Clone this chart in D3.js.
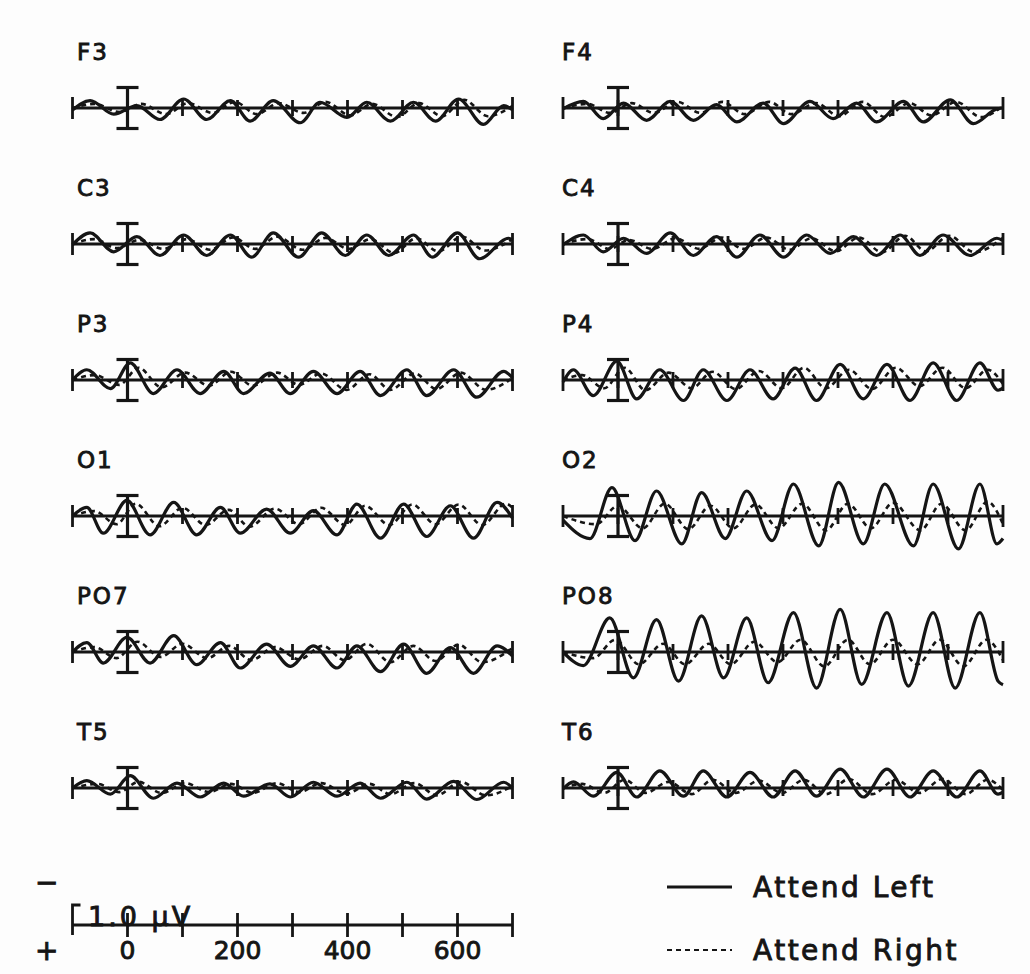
<!DOCTYPE html>
<html>
<head>
<meta charset="utf-8">
<script src="https://cdn.jsdelivr.net/npm/d3@7"></script>
<style>
  html, body { margin: 0; padding: 0; background: #fdfdfd; }
  text { font-family: "DejaVu Sans", sans-serif; fill: #151515; stroke: #151515; stroke-width: 0.9px; }
</style>
</head>
<body>
<div id="chart"></div>
<script>
// channel layout: left column / right column, row by row
const channels = ["F3", "F4", "C3", "C4", "P3", "P4", "O1", "O2", "PO7", "PO8", "T5", "T6"];

// [time ms, amplitude uV] (negative up) at their extrema
const F3_left = [[-100,0.05],[-68,-0.18],[-25,0.15],[17,-0.06],[59,0.28],[102,-0.22],[144,0.28],[187,-0.18],[223,0.32],[265,-0.18],[314,0.36],[350,-0.14],[399,0.23],[435,-0.14],[478,0.32],[520,-0.14],[560,0.32],[602,-0.22],[647,0.4],[684,-0.06],[700,0.05]];
const F3_right = [[-100,0],[-60,-0.1],[-15,0.1],[25,-0.1],[70,0.15],[110,-0.12],[155,0.12],[195,-0.15],[235,0.15],[275,-0.12],[320,0.12],[360,-0.15],[405,0.18],[445,-0.1],[490,0.22],[530,-0.12],[572,0.2],[612,-0.2],[655,0.2],[700,-0.05]];
const F4_left = [[-100,0.02],[-63,-0.16],[-27,0.26],[10,-0.12],[52,0.3],[95,-0.16],[137,0.3],[179,-0.08],[216,0.34],[264,-0.12],[301,0.38],[349,-0.16],[391,0.26],[434,-0.12],[470,0.34],[519,-0.16],[555,0.34],[604,-0.2],[646,0.38],[689,0.02],[700,0]];
const F4_right = [[-100,0],[-55,-0.1],[-15,0.12],[25,-0.12],[65,0.12],[108,-0.15],[150,0.12],[190,-0.15],[230,0.15],[275,-0.15],[315,0.15],[360,-0.12],[402,0.2],[445,-0.15],[485,0.22],[530,-0.12],[570,0.18],[615,-0.15],[660,0.22],[700,-0.05]];
const C3_left = [[-100,0.02],[-68,-0.27],[-25,0.19],[17,-0.18],[59,0.28],[102,-0.22],[144,0.28],[187,-0.22],[226,0.32],[265,-0.27],[311,0.32],[353,-0.27],[396,0.28],[435,-0.22],[475,0.28],[520,-0.22],[554,0.32],[600,-0.27],[640,0.36],[693,-0.14],[700,-0.1]];
const C3_right = [[-100,0],[-60,-0.12],[-20,0.1],[22,-0.1],[65,0.12],[108,-0.12],[150,0.14],[192,-0.16],[232,0.12],[272,-0.18],[318,0.14],[360,-0.15],[402,0.12],[442,-0.12],[485,0.22],[525,-0.14],[565,0.18],[608,-0.18],[650,0.16],[700,-0.12]];
const C4_left = [[-100,0.02],[-63,-0.22],[-27,0.19],[10,-0.14],[52,0.23],[95,-0.27],[137,0.28],[179,-0.18],[216,0.32],[258,-0.22],[301,0.32],[343,-0.22],[386,0.23],[428,-0.18],[470,0.28],[513,-0.22],[549,0.28],[591,-0.22],[640,0.28],[689,-0.14],[700,-0.08]];
const C4_right = [[-100,0],[-55,-0.12],[-15,0.12],[20,-0.1],[62,0.12],[105,-0.14],[148,0.12],[188,-0.16],[228,0.12],[270,-0.16],[312,0.14],[352,-0.14],[396,0.18],[438,-0.16],[480,0.2],[522,-0.2],[560,0.18],[602,-0.2],[648,0.2],[700,-0.15]];
const P3_left = [[-100,0],[-74,-0.25],[-31,0.21],[5,-0.42],[47,0.33],[90,-0.25],[132,0.33],[175,-0.21],[211,0.33],[259,-0.17],[296,0.33],[338,-0.21],[381,0.33],[423,-0.21],[460,0.38],[508,-0.25],[544,0.38],[593,-0.25],[635,0.42],[684,-0.21],[700,-0.05]];
const P3_right = [[-100,0],[-60,-0.12],[-15,0.12],[20,-0.3],[62,0.18],[105,-0.18],[148,0.14],[188,-0.2],[228,0.14],[272,-0.18],[312,0.12],[352,-0.16],[398,0.24],[440,-0.14],[478,0.24],[522,-0.16],[562,0.22],[606,-0.18],[652,0.24],[700,-0.05]];
const P4_left = [[-100,0.05],[-81,-0.25],[-45,0.38],[-2,-0.46],[34,0.46],[76,-0.25],[119,0.5],[155,-0.25],[198,0.5],[240,-0.25],[282,0.46],[322,-0.29],[361,0.5],[404,-0.38],[446,0.46],[489,-0.38],[531,0.5],[573,-0.42],[616,0.5],[658,-0.42],[691,0.25],[700,0.2]];
const P4_right = [[-100,0],[-65,-0.12],[-25,0.2],[12,-0.3],[50,0.25],[92,-0.18],[134,0.2],[172,-0.2],[214,0.22],[256,-0.22],[298,0.2],[338,-0.3],[378,0.2],[420,-0.25],[462,0.22],[505,-0.3],[548,0.15],[590,-0.3],[632,0.2],[672,-0.25],[700,0.1]];
const O1_left = [[-100,0],[-74,-0.21],[-44,0.42],[-1,-0.38],[41,0.46],[84,-0.33],[126,0.46],[169,-0.21],[205,0.42],[253,-0.17],[296,0.42],[338,-0.13],[381,0.46],[417,-0.29],[460,0.54],[502,-0.29],[544,0.5],[587,-0.25],[629,0.54],[672,-0.33],[700,0.05]];
const O1_right = [[-100,0],[-60,-0.12],[-20,0.2],[15,-0.3],[58,0.25],[100,-0.2],[142,0.22],[184,-0.15],[222,0.26],[268,-0.18],[312,0.2],[352,-0.2],[396,0.22],[432,-0.25],[476,0.22],[518,-0.28],[560,0.2],[602,-0.28],[645,0.22],[688,-0.3],[700,-0.2]];
const O2_left = [[-100,0.1],[-51,0.55],[-11,-0.69],[31,0.6],[70,-0.61],[116,0.68],[152,-0.57],[195,0.55],[234,-0.61],[280,0.6],[319,-0.78],[365,0.73],[401,-0.82],[446,0.68],[485,-0.78],[537,0.73],[573,-0.78],[619,0.8],[658,-0.78],[689,0.68],[700,0.55]];
const O2_right = [[-100,0],[-40,0.2],[0,-0.25],[45,0.3],[85,-0.3],[128,0.32],[168,-0.25],[210,0.3],[250,-0.28],[292,0.3],[335,-0.3],[378,0.35],[418,-0.3],[460,0.3],[500,-0.32],[550,0.35],[588,-0.3],[632,0.35],[672,-0.35],[700,0.2]];
const PO7_left = [[-100,0],[-74,-0.23],[-44,0.27],[-1,-0.36],[41,0.27],[84,-0.4],[126,0.31],[169,-0.23],[205,0.39],[253,-0.19],[296,0.35],[338,-0.15],[381,0.39],[417,-0.15],[460,0.48],[502,-0.19],[544,0.52],[587,-0.11],[629,0.52],[672,-0.15],[700,0.1]];
const PO7_right = [[-100,0],[-60,-0.12],[-20,0.15],[18,-0.25],[60,0.12],[100,-0.2],[145,0.15],[185,-0.15],[225,0.2],[268,-0.12],[312,0.18],[355,-0.15],[395,0.2],[435,-0.2],[478,0.25],[520,-0.15],[560,0.22],[602,-0.18],[645,0.25],[700,-0.1]];
const PO8_left = [[-100,0],[-63,0.33],[-15,-0.83],[28,0.63],[70,-0.79],[110,0.71],[152,-0.88],[192,0.63],[234,-0.83],[273,0.75],[319,-0.96],[361,0.88],[404,-1.04],[443,0.79],[489,-0.96],[528,0.83],[573,-0.96],[613,0.88],[658,-0.96],[691,0.71],[700,0.8]];
const PO8_right = [[-100,0],[-45,0.15],[-5,-0.3],[38,0.3],[82,-0.2],[122,0.3],[165,-0.2],[205,0.3],[248,-0.25],[290,0.25],[332,-0.3],[375,0.35],[418,-0.3],[458,0.3],[500,-0.3],[545,0.3],[585,-0.3],[628,0.35],[670,-0.3],[700,0.2]];
const T5_left = [[-100,0],[-74,-0.18],[-31,0.15],[5,-0.3],[47,0.25],[90,-0.12],[132,0.22],[175,-0.12],[211,0.2],[259,-0.1],[296,0.22],[338,-0.14],[381,0.2],[423,-0.12],[460,0.25],[508,-0.14],[544,0.27],[593,-0.16],[635,0.28],[684,-0.14],[700,0]];
const T5_right = [[-100,0],[-55,-0.1],[-15,0.1],[20,-0.15],[62,0.12],[105,-0.12],[148,0.1],[188,-0.1],[228,0.12],[272,-0.12],[312,0.1],[352,-0.12],[398,0.14],[440,-0.1],[478,0.15],[522,-0.12],[562,0.18],[606,-0.15],[652,0.18],[700,-0.05]];
const T6_left = [[-100,0.02],[-81,-0.15],[-45,0.2],[-2,-0.38],[34,0.22],[76,-0.42],[119,0.2],[155,-0.42],[198,0.22],[240,-0.38],[282,0.22],[322,-0.42],[361,0.2],[404,-0.46],[446,0.22],[489,-0.46],[531,0.22],[573,-0.42],[616,0.22],[658,-0.42],[691,0.15],[700,0.1]];
const T6_right = [[-100,0],[-65,-0.1],[-25,0.12],[12,-0.2],[50,0.12],[92,-0.15],[134,0.15],[172,-0.2],[214,0.12],[256,-0.18],[298,0.12],[338,-0.2],[378,0.15],[420,-0.22],[462,0.15],[505,-0.2],[548,0.12],[590,-0.22],[632,0.15],[672,-0.2],[700,0.05]];

const timeTicks = [-100, 0, 100, 200, 300, 400, 500, 600, 700];
const timeLabels = [0, 200, 400, 600];
const scaleBarUV = 1.0;
const legendLabels = ["Attend Left", "Attend Right"];

const waves = {
  F3: [F3_left, F3_right], F4: [F4_left, F4_right],
  C3: [C3_left, C3_right], C4: [C4_left, C4_right],
  P3: [P3_left, P3_right], P4: [P4_left, P4_right],
  O1: [O1_left, O1_right], O2: [O2_left, O2_right],
  PO7: [PO7_left, PO7_right], PO8: [PO8_left, PO8_right],
  T5: [T5_left, T5_right], T6: [T6_left, T6_right]
};

const width = 1030, height = 974;
const ink = "#151515";

const svg = d3.select("#chart").append("svg")
  .attr("width", width)
  .attr("height", height)
  .attr("viewBox", [0, 0, width, height]);

const colX = [72.5, 563];
const axisLen = 440;
const row0 = 108, rowStep = 136;
const pxPerUV = 41;

// y scale relative to the panel baseline, negative up
const y = d3.scaleLinear().domain([-1, 1]).range([-pxPerUV, pxPerUV]);

channels.forEach((ch, i) => {
  const col = i % 2, row = Math.floor(i / 2);
  const x = d3.scaleLinear().domain([-100, 700]).range([colX[col], colX[col] + axisLen]);
  const g = svg.append("g").attr("transform", `translate(0,${row0 + row * rowStep})`);

  g.append("text")
    .attr("x", col === 0 ? 77 : 562)
    .attr("y", -48)
    .attr("font-size", 23)
    .attr("letter-spacing", 2)
    .text(ch);

  // baseline with 100 ms ticks
  g.append("line")
    .attr("x1", x(-100)).attr("x2", x(700))
    .attr("y1", 0).attr("y2", 0)
    .attr("stroke", ink).attr("stroke-width", 3.2);

  g.selectAll(".tick")
    .data(timeTicks)
    .enter().append("line")
    .attr("x1", d => x(d)).attr("x2", d => x(d))
    .attr("y1", d => (d === -100 || d === 700) ? -11 : -8)
    .attr("y2", d => (d === -100 || d === 700) ? 11 : 8)
    .attr("stroke", ink).attr("stroke-width", 2.8);

  // scale bar at stimulus onset
  const half = scaleBarUV / 2;
  g.append("line")
    .attr("x1", x(0)).attr("x2", x(0))
    .attr("y1", y(-half)).attr("y2", y(half))
    .attr("stroke", ink).attr("stroke-width", 3.2);
  [-half, half].forEach(v => {
    g.append("line")
      .attr("x1", x(0) - 11).attr("x2", x(0) + 11)
      .attr("y1", y(v)).attr("y2", y(v))
      .attr("stroke", ink).attr("stroke-width", 3.2);
  });

  const line = d3.line()
    .x(d => x(d[0]))
    .y(d => y(d[1]))
    .curve(d3.curveMonotoneX);

  const [attL, attR] = waves[ch];
  g.append("path")
    .attr("d", line(attR))
    .attr("fill", "none")
    .attr("stroke", ink).attr("stroke-width", 2.6)
    .attr("stroke-dasharray", "5,4");
  g.append("path")
    .attr("d", line(attL))
    .attr("fill", "none")
    .attr("stroke", ink).attr("stroke-width", 3.2)
    .attr("stroke-linejoin", "round");
});

// time axis + calibration
const xb = d3.scaleLinear().domain([-100, 700]).range([colX[0], colX[0] + axisLen]);
const axisY = 925;
const ax = svg.append("g");
ax.append("line")
  .attr("x1", xb(-100)).attr("x2", xb(700))
  .attr("y1", axisY).attr("y2", axisY)
  .attr("stroke", ink).attr("stroke-width", 3);
ax.selectAll(".btick")
  .data(timeTicks.filter(d => d > -100))
  .enter().append("line")
  .attr("x1", d => xb(d)).attr("x2", d => xb(d))
  .attr("y1", axisY - 12).attr("y2", axisY + 12)
  .attr("stroke", ink).attr("stroke-width", 2.8);
// bracket at the left end
ax.append("path")
  .attr("d", `M${xb(-100) + 8},${axisY - 20} H${xb(-100)} V${axisY + 10}`)
  .attr("fill", "none").attr("stroke", ink).attr("stroke-width", 2.8);
ax.append("text")
  .attr("x", 88).attr("y", axisY + 1)
  .attr("font-size", 27)
  .attr("letter-spacing", 3)
  .text(`${scaleBarUV.toFixed(1)} \u00b5V`);
ax.selectAll(".blabel")
  .data(timeLabels)
  .enter().append("text")
  .attr("x", d => xb(d)).attr("y", 959)
  .attr("text-anchor", "middle")
  .attr("font-size", 25)
  .text(d => d);
ax.append("text").attr("x", 35).attr("y", 892).attr("font-size", 28).text("\u2212");
ax.append("text").attr("x", 35).attr("y", 960).attr("font-size", 28).text("+");

// legend
const lg = svg.append("g");
legendLabels.forEach((lab, i) => {
  const ly = 887 + i * 63;
  lg.append("line")
    .attr("x1", 667).attr("x2", 732)
    .attr("y1", ly).attr("y2", ly)
    .attr("stroke", ink).attr("stroke-width", i === 0 ? 2.8 : 2.2)
    .attr("stroke-dasharray", i === 0 ? null : "5,4");
  lg.append("text")
    .attr("x", 753).attr("y", ly + 10)
    .attr("font-size", 28)
    .attr("letter-spacing", 2.5)
    .text(lab);
});
</script>
</body>
</html>
